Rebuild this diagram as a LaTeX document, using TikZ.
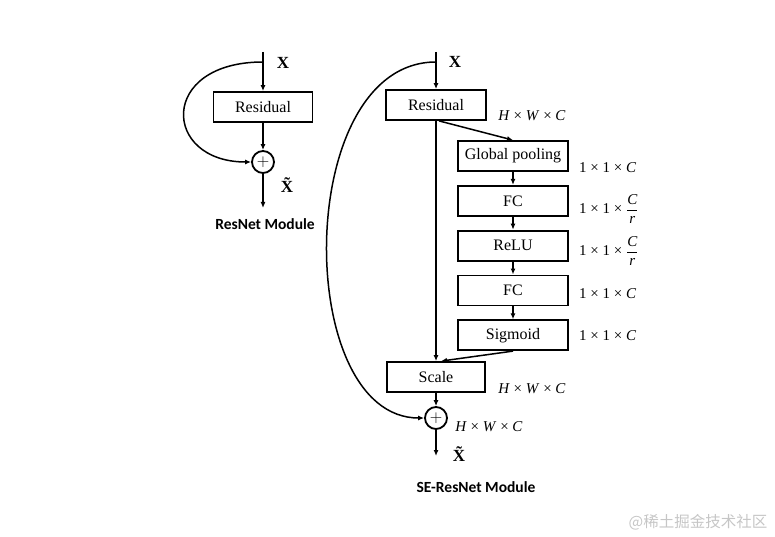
\documentclass[tikz,border=0pt]{standalone}
\usepackage{fontspec}
\setmainfont{Liberation Serif}
\newfontfamily\capfont{Carlito}
\newfontfamily\cjk{Noto Sans CJK SC}
\usetikzlibrary{positioning}
\usetikzlibrary{arrows.meta}
\tikzset{
	block/.style={draw, line width=1.8pt, minimum height=30pt, inner sep=0pt, font=\fontsize{16}{18}\selectfont},
	flow/.style={line width=1.5pt, -{Latex[length=6pt,width=5pt]}},
	adder/.style={draw, circle, line width=1.8pt, minimum size=22pt, inner sep=0pt, font=\fontsize{17}{17}\selectfont},
	dims/.style={inner sep=0pt},
	xlabel/.style={font=\bfseries\fontsize{17}{18}\selectfont},
	caption/.style={font=\capfont\bfseries\fontsize{15.5}{18}\selectfont}
}
\newcommand{\hwc}{\textit{H} × \textit{W} × \textit{C}}
\newcommand{\ooc}{1 × 1 × \textit{C}}
\newcommand{\oocr}{1 × 1 × $\displaystyle\frac{\mbox{\textit{C}}}{\mbox{\textit{r}}}$}
\begin{document}
\begin{tikzpicture}[x=1pt, y=-1pt, font=\fontsize{15}{18}\selectfont]
	\useasboundingbox (0,0) rectangle (775,537);

	%ResNet module (left)
	\coordinate (rIn) at (263,52); %rIn = input
	\coordinate (rSplit) at (263,62); %rSplit = skip starts here
	\node[block, minimum width=99pt] (rRes) at (263,107) {Residual};
	\node[adder] (rAdd) at (263,162) {$+$};
	\coordinate (rOut) at (263,208);
	\draw[flow] (rIn) -- (rRes);
	\draw[flow] (rRes) -- (rAdd);
	\draw[flow] (rAdd) -- (rOut);
	\draw[flow] (rSplit) .. controls (158,62) and (162,162) .. (rAdd);
	\node[xlabel] (rX) at (283,63) {X};
	\node[xlabel] (rXt) at (287,185) {\~{X}};
	\node[caption] (rCap) at (265,224) {ResNet Module};

	%SE-ResNet module (right)
	\coordinate (sIn) at (436,52);
	\coordinate (sSplit) at (436,62);
	\node[block, minimum width=100pt] (sRes) at (436,105) {Residual};
	%squeeze and excitation branch
	\node[block, minimum width=110pt] (gp) at (513,156) {Global pooling};
	\node[block, minimum width=110pt, below=13pt of gp] (fc1) {FC};
	\node[block, minimum width=110pt, below=13pt of fc1] (relu) {ReLU};
	\node[block, minimum width=110pt, below=13pt of relu] (fc2) {FC};
	\node[block, minimum width=110pt, below=13pt of fc2] (sig) {Sigmoid};
	\node[block, minimum width=98pt] (scale) at (436,377) {Scale};
	\node[adder] (sAdd) at (436,418) {$+$};
	\coordinate (sOut) at (436,456);

	%draw edges
	\draw[flow] (sIn) -- (sRes);
	\draw[flow] (sRes) -- (scale);
	\draw[flow] ([xshift=3pt]sRes.south) -- (gp.north);
	\draw[flow] (gp) -- (fc1);
	\draw[flow] (fc1) -- (relu);
	\draw[flow] (relu) -- (fc2);
	\draw[flow] (fc2) -- (sig);
	\draw[flow] (sig.south) -- ([xshift=5pt]scale.north);
	\draw[flow] (scale) -- (sAdd);
	\draw[flow] (sAdd) -- (sOut);
	\draw[flow] (sSplit) .. controls (293,62) and (293,418) .. (sAdd);

	%labels
	\node[xlabel] (sX) at (455,62) {X};
	\node[xlabel] (sXt) at (459,454) {\~{X}};
	\node[dims] (dRes) at (532,116) {\hwc};
	\node[dims, anchor=west] (dGp) at (579,168) {\ooc};
	\node[dims, anchor=west] (dFc1) at (579,209) {\oocr};
	\node[dims, anchor=west] (dRelu) at (579,251) {\oocr};
	\node[dims, anchor=west] (dFc2) at (579,294) {\ooc};
	\node[dims, anchor=west] (dSig) at (579,336) {\ooc};
	\node[dims] (dScale) at (532,389) {\hwc};
	\node[dims] (dAdd) at (489,427) {\hwc};
	\node[caption] (sCap) at (476,487) {SE-ResNet Module};

	%watermark
	\node[text=gray!45, font=\cjk\fontsize{15.5}{18}\selectfont] (wm) at (698,522) {@稀土掘金技术社区};
\end{tikzpicture}
\end{document}
